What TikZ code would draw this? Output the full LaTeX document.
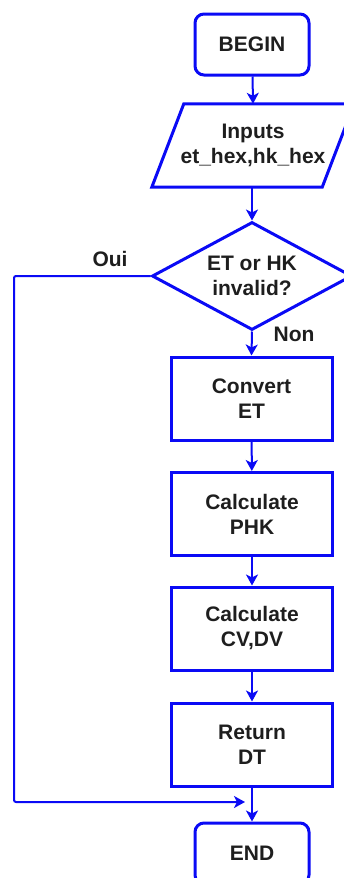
\documentclass[tikz,border=0pt]{standalone}
\usepackage{fontspec}
\setmainfont{Liberation Sans}
\usetikzlibrary{shapes.geometric,arrows.meta}
\definecolor{fcblue}{RGB}{10,10,245}
\definecolor{fctext}{RGB}{30,30,30}
\tikzset{
  base/.style={draw=fcblue, line width=3pt, text=fctext, align=center,
    font=\fontsize{21}{25}\selectfont\bfseries, inner sep=0pt},
  termbox/.style={base, rectangle, rounded corners=9pt, minimum width=114pt, minimum height=61pt},
  procbox/.style={base, rectangle, minimum width=161pt, minimum height=83pt},
  decbox/.style={base, diamond, aspect=1.85, minimum width=200pt, minimum height=108pt},
  iobox/.style={text=fctext, align=center, font=\fontsize{21}{25}\selectfont\bfseries,
    inner sep=0pt, minimum width=170pt, minimum height=83pt},
  arr/.style={draw=fcblue, line width=2pt, -{Stealth[length=11pt,width=12pt,inset=3pt]}},
  lbl/.style={text=fctext, font=\fontsize{21}{25}\selectfont\bfseries, inner sep=0pt}
}
\begin{document}
\begin{tikzpicture}[x=1pt,y=-1pt]
\useasboundingbox (0,0) rectangle (343,878);
\node[termbox] (begin) at (252,44.5) {BEGIN};
\node[iobox] (inputs) at (253,145.5) {Inputs\\et\_hex,hk\_hex};
\draw[draw=fcblue, line width=3pt, line join=miter]
  ([xshift=16pt]inputs.north west) -- ([xshift=16pt]inputs.north east)
  -- ([xshift=-16pt]inputs.south east) -- ([xshift=-16pt]inputs.south west) -- cycle;
\node[decbox] (dec) at (252,276) {ET or HK\\invalid?};
\node[procbox] (conv) at (251.5,398.5) {Convert\\ET};
\node[procbox] (phk) at (252,514) {Calculate\\PHK};
\node[procbox] (cvdv) at (252,628.5) {Calculate\\CV,DV};
\node[procbox] (ret) at (252,744.5) {Return\\DT};
\node[termbox] (end) at (252,853.5) {END};
\coordinate (merge) at (252,802);
\coordinate (lcorner) at (14,276);

\draw[arr] (begin) -- (inputs.north);
\draw[arr] ([xshift=-1pt]inputs.south) -- (dec.north);
\draw[arr] (dec.south) -- (conv.north);
\draw[arr] (conv) -- (phk);
\draw[arr] (phk) -- (cvdv);
\draw[arr] (cvdv) -- (ret);
\draw[arr] (ret) -- (end);
\draw[arr, rounded corners=2pt] (dec.west) -- (lcorner) |- ([xshift=-7pt]merge);

\node[lbl] (oui) at (110,259) {Oui};
\node[lbl] (non) at (294,334) {Non};
\end{tikzpicture}
\end{document}
